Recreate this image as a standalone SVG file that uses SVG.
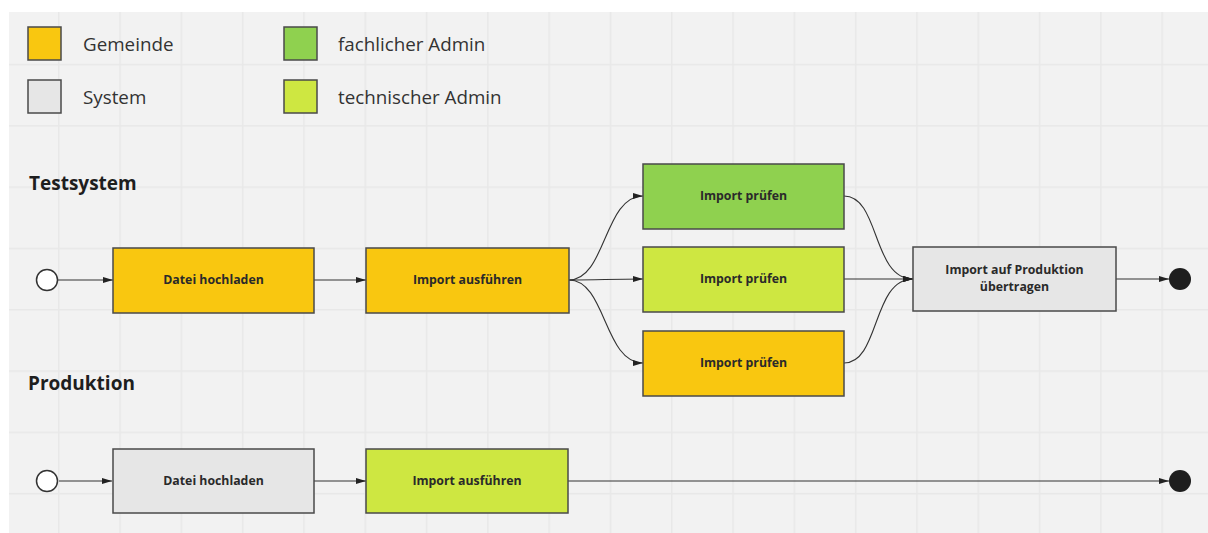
<svg xmlns="http://www.w3.org/2000/svg" width="1208" height="533" viewBox="0 0 1208 533">
<defs>
<pattern id="grid" x="58" y="2.5" width="61.3" height="61.3" patternUnits="userSpaceOnUse">
<path d="M0.75 0V61.3M0 0.75H61.3" stroke="#e8e8e8" stroke-width="1.5" fill="none"/>
</pattern>
<marker id="arr" viewBox="0 0 10 6" refX="10" refY="3" markerWidth="10" markerHeight="6" markerUnits="userSpaceOnUse" orient="auto">
<path d="M0 0L10 3L0 6Z" fill="#222"/>
</marker>
<style>
.box{stroke:#4a4a4a;stroke-width:1.5}
.gem{fill:#f9c710}
.sys{fill:#e6e6e6}
.fach{fill:#8fd14f}
.tech{fill:#cee741}
.lbl{font-family:"Open Sans","Liberation Sans",sans-serif;font-weight:bold;font-size:12.3px;fill:#2a2a2a;text-anchor:middle}
.leg{font-family:"Open Sans","Liberation Sans",sans-serif;font-size:18.8px;fill:#333}
.ttl{font-family:"Open Sans","Liberation Sans",sans-serif;font-weight:bold;font-size:19px;fill:#1e1e1e}
.con{fill:none;stroke:#333;stroke-width:1.1;marker-end:url(#arr)}
</style>
</defs>
<rect width="1208" height="533" fill="#ffffff"/>
<rect x="9" y="12" width="1199" height="521" fill="#f2f2f2"/>
<rect x="9" y="12" width="1199" height="521" fill="url(#grid)"/>

<g id="legend">
<g id="leg-gemeinde"><rect class="box gem" x="28" y="27" width="33" height="33"/><text class="leg" x="83" y="51">Gemeinde</text></g>
<g id="leg-system"><rect class="box sys" x="28" y="80" width="33" height="33"/><text class="leg" x="83" y="104">System</text></g>
<g id="leg-fach"><rect class="box fach" x="284" y="27" width="33" height="33"/><text class="leg" x="338" y="51">fachlicher Admin</text></g>
<g id="leg-tech"><rect class="box tech" x="284" y="80" width="33" height="33"/><text class="leg" x="338" y="104">technischer Admin</text></g>
</g>

<text class="ttl" x="29" y="190">Testsystem</text>
<text class="ttl" x="28" y="390">Produktion</text>

<g id="connectors">
<path class="con" d="M58 280H113"/>
<path class="con" d="M314 280H366"/>
<path class="con" d="M569 280C606 280 604 196 643 196"/>
<path class="con" d="M569 280C600 280 610 279 643 279"/>
<path class="con" d="M569 280C606 280 604 363 643 363"/>
<path class="con" d="M844 196C880 196 872 279 913 279"/>
<path class="con" d="M844 279H913"/>
<path class="con" d="M844 363C880 363 872 279 913 279"/>
<path class="con" d="M1116 279H1169"/>
<path class="con" d="M59 481H112"/>
<path class="con" d="M314 481H366"/>
<path class="con" d="M568 481H1169"/>
</g>

<g id="t-start"><circle cx="47" cy="280" r="10.5" fill="#fff" stroke="#333" stroke-width="1.5"/></g>
<g id="t-datei"><rect class="box gem" x="113" y="248" width="201" height="65"/><text class="lbl" x="213.5" y="284">Datei hochladen</text></g>
<g id="t-import"><rect class="box gem" x="366" y="248" width="203" height="65"/><text class="lbl" x="467.5" y="284">Import ausführen</text></g>
<g id="t-pruef1"><rect class="box fach" x="643" y="164" width="201" height="65"/><text class="lbl" x="743.5" y="200">Import prüfen</text></g>
<g id="t-pruef2"><rect class="box tech" x="643" y="247" width="201" height="65"/><text class="lbl" x="743.5" y="283">Import prüfen</text></g>
<g id="t-pruef3"><rect class="box gem" x="643" y="331" width="201" height="65"/><text class="lbl" x="743.5" y="367">Import prüfen</text></g>
<g id="t-transfer"><rect class="box sys" x="913" y="247" width="203" height="64"/><text class="lbl" x="1014.5" y="274">Import auf Produktion</text><text class="lbl" x="1014.5" y="291">übertragen</text></g>
<g id="t-end"><circle cx="1180" cy="279" r="11" fill="#1e1e1e"/></g>

<g id="p-start"><circle cx="47" cy="481" r="10.5" fill="#fff" stroke="#333" stroke-width="1.5"/></g>
<g id="p-datei"><rect class="box sys" x="113" y="449" width="201" height="64"/><text class="lbl" x="213.5" y="485">Datei hochladen</text></g>
<g id="p-import"><rect class="box tech" x="366" y="449" width="202" height="64"/><text class="lbl" x="467" y="485">Import ausführen</text></g>
<g id="p-end"><circle cx="1180" cy="481" r="11" fill="#1e1e1e"/></g>
</svg>
